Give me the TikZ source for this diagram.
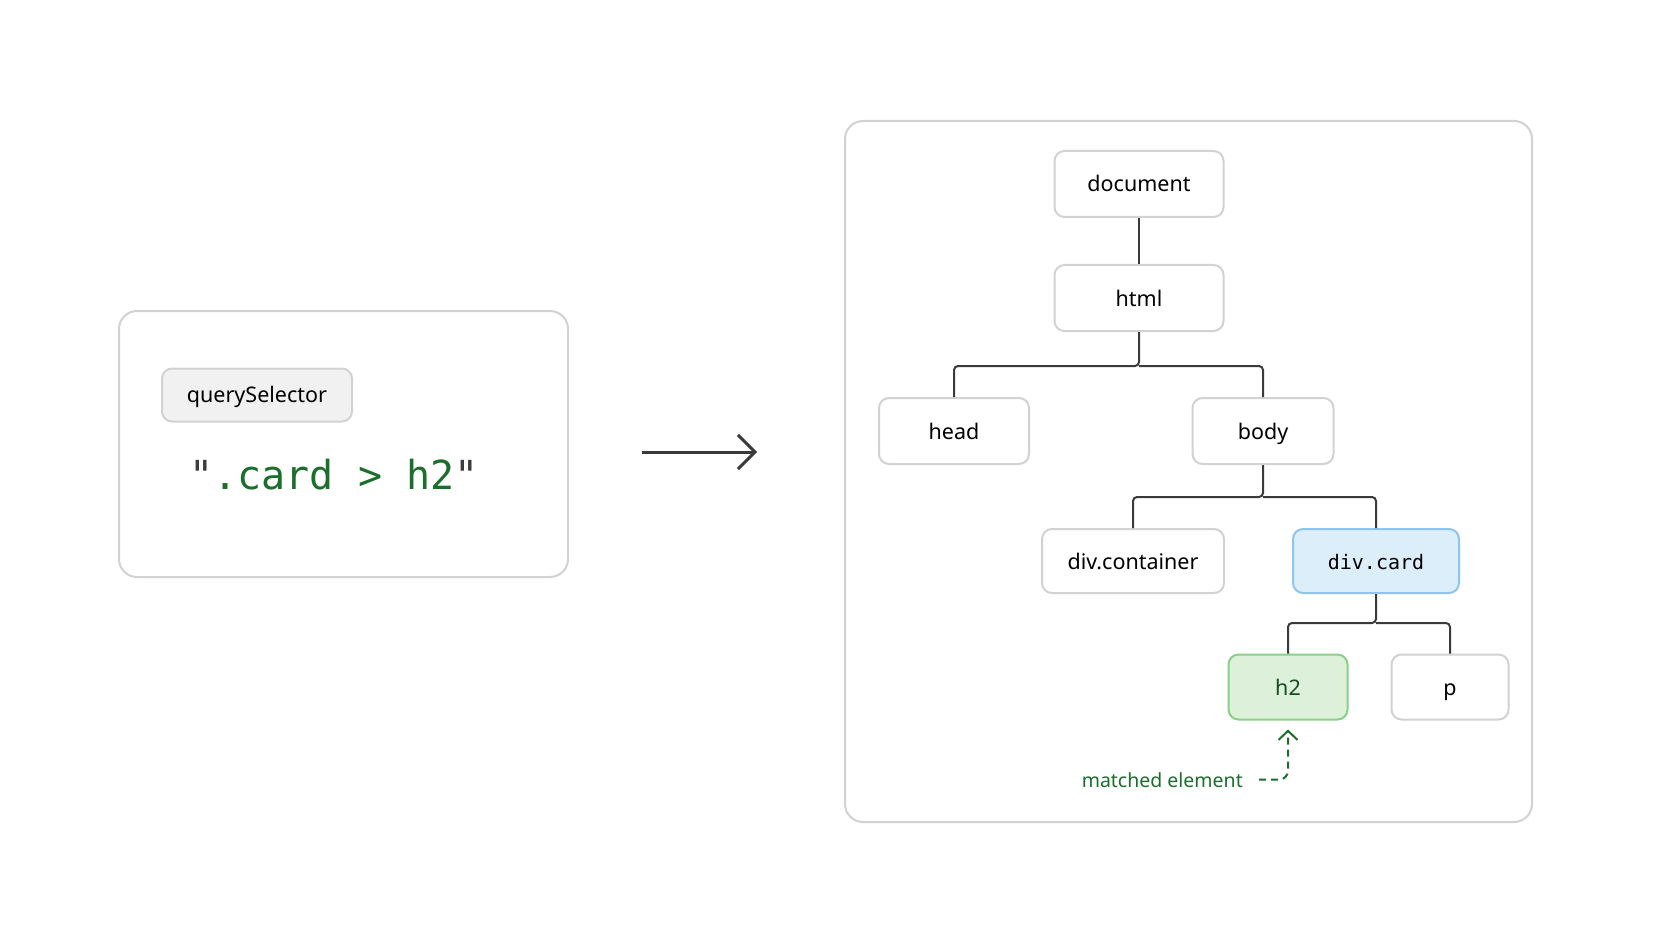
\documentclass[tikz,border=0pt]{standalone}
\usepackage{fontspec}
\setmainfont{Noto Sans}
\newfontfamily\codefont{DejaVu Sans Mono}
\usetikzlibrary{arrows.meta}

\definecolor{framegray}{HTML}{D2D2D2}
\definecolor{linegray}{HTML}{3A3A3A}
\definecolor{pillfill}{HTML}{F1F1F1}
\definecolor{cardfill}{HTML}{DDEEFB}
\definecolor{cardline}{HTML}{8FC4EC}
\definecolor{matchfill}{HTML}{DCF0DA}
\definecolor{matchline}{HTML}{8ACF8A}
\definecolor{codegreen}{HTML}{1B6E2C}
\definecolor{quotegray}{HTML}{3C3C3C}

\begin{document}
\begin{tikzpicture}[x=1pt,y=-1pt,
		panel/.style={draw=framegray, line width=2pt, rounded corners=18pt},
		dom/.style={draw=framegray, line width=2pt, rounded corners=10pt, fill=white,
			minimum height=66pt, inner sep=0pt, text height=16pt, text depth=0pt,
			font=\fontsize{21.5}{25}\selectfont},
		wire/.style={draw=linegray, line width=2pt, rounded corners=4pt},
		hint/.style={draw=codegreen, line width=2pt, dashed, dash pattern=on 7pt off 5pt,
			rounded corners=9pt, -{Straight Barb[length=9pt,width=19pt]}}]
		\fill[white] (0,0) rectangle (1672,941);
		
		% selector side
		\draw[panel] (119,311) rectangle (568,577);
		\node[draw=framegray, fill=pillfill, line width=2pt, rounded corners=10pt,
			minimum width=190pt, minimum height=53pt, inner sep=0pt,
			text height=15pt, text depth=0pt,
			font=\fontsize{21.5}{25}\selectfont] (query) at (257,395) {querySelector};
		\node[anchor=base, inner sep=0pt, font=\codefont\fontsize{40}{45}\selectfont]
			(selector) at (334,489) {\textcolor{quotegray}{"}\textcolor{codegreen}{.card > h2}\textcolor{quotegray}{"}};
		
		\coordinate (go) at (642,452);
		\coordinate (gone) at (757,452);
		\draw[linegray, line width=3pt, -{Straight Barb[length=17pt,width=34pt]}] (go) -- (gone);
		
		% tree side
		\draw[panel] (845,121) rectangle (1532,822);
		
		\node[dom, minimum width=169pt] (document) at (1139,184) {document};
		\node[dom, minimum width=169pt] (html) at (1139,298) {html};
		\node[dom, minimum width=150pt] (head) at (954,431) {head};
		\node[dom, minimum width=141pt] (body) at (1263,431) {body};
		\node[dom, minimum width=182pt, minimum height=64pt] (container) at (1133,561) {div.container};
		\node[dom, minimum width=166pt, minimum height=64pt, fill=cardfill, draw=cardline,
			font=\codefont\fontsize{20}{24}\selectfont] (card) at (1376,561) {div.card};
		\node[dom, minimum width=119pt, minimum height=65pt, fill=matchfill, draw=matchline,
			text=codegreen!70!black] (h2) at (1288,687) {h2};
		\node[dom, minimum width=117pt, minimum height=65pt] (p) at (1450,687) {p};
		
		\coordinate (split1) at (1139,366);
		\coordinate (split2) at (1263,497);
		\coordinate (split3) at (1376,623);
		
		\draw[wire] (document) -- (html);
		\draw[wire] (html.south) -- (split1) -| (head.north);
		\draw[wire] (split1) -| (body.north);
		\draw[wire] (body.south) -- (split2) -| (container.north);
		\draw[wire] (split2) -| (card.north);
		\draw[wire] (card.south) -- (split3) -| (h2.north);
		\draw[wire] (split3) -| (p.north);
		
		\node[anchor=base east, inner sep=0pt, text=codegreen,
			font=\fontsize{19.5}{23}\selectfont] (matched) at (1243,787) {matched element};
		\draw[hint, shorten <=16pt, shorten >=9pt] (matched.east) -| (h2.south);
	\end{tikzpicture}
\end{document}
